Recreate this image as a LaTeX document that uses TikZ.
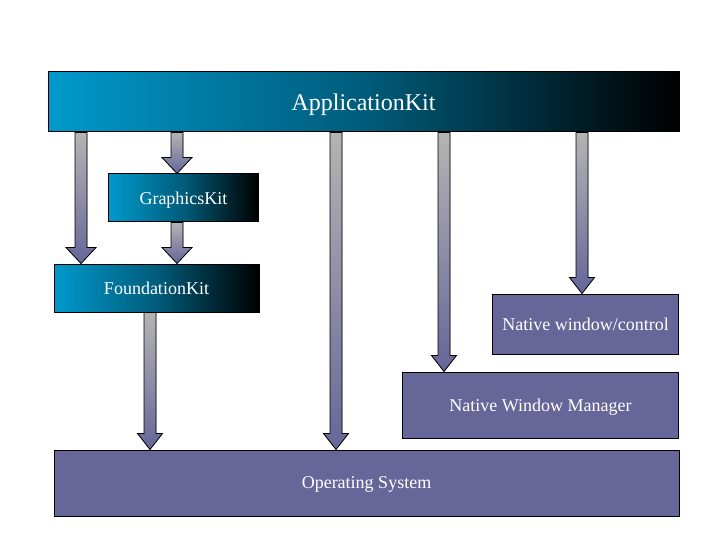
\documentclass[tikz,border=0pt]{standalone}
\usepackage{fontspec}
\setmainfont{Liberation Serif}
\usetikzlibrary{calc, positioning}
\definecolor{kitblue}{HTML}{0099CC}
\definecolor{nativepurple}{HTML}{666699}
\definecolor{shaftgray}{HTML}{B4B4B4}

% block arrow between two layers: [head half width]{x}{from}{to}
\newcommand{\layerarrow}[4][12.5]{%
  \coordinate (ax) at (#2,0);
  \coordinate (atail) at (ax |- #3.south);
  \coordinate (atip) at (ax |- #4.north);
  \filldraw[arrowbody] ($(atail)+(-6,0)$) -- ($(atip)+(-6,-16)$) -- ($(atip)+(-#1,-16)$) -- (atip)
    -- ($(atip)+(#1,-16)$) -- ($(atip)+(6,-16)$) -- ($(atail)+(6,0)$) -- cycle;
}

\begin{document}
\begin{tikzpicture}[x=1pt, y=-1pt,
  kitbox/.style={draw=black, line width=1pt, text=white, left color=kitblue, right color=black,
    middle color=kitblue!60!black, inner sep=0pt, text depth=0pt, font=\fontsize{18}{18}\selectfont},
  nativebox/.style={draw=black, line width=1pt, fill=nativepurple, text=white, inner sep=0pt,
    text depth=0pt, font=\fontsize{18}{18}\selectfont},
  arrowbody/.style={draw=black, line width=0.8pt, top color=shaftgray, bottom color=nativepurple}]
  \fill[white] (0,0) rectangle (720,540);
  \useasboundingbox (0,0) rectangle (720,540);

  % framework layers
  \node[kitbox, minimum width=631pt, minimum height=60pt, font=\fontsize{24}{24}\selectfont] (appkit) at (363.5,102) {ApplicationKit};
  \node[kitbox, minimum width=150pt, minimum height=48pt] (graphicskit) at (183.5,198) {GraphicsKit};
  \node[kitbox, minimum width=205pt, minimum height=48pt] (foundationkit) at (156.5,288) {FoundationKit};

  % native layers
  \node[nativebox, minimum width=186pt, minimum height=60pt] (nativectl) at (585.5,324) {Native window/control};
  \node[nativebox, minimum width=276pt, minimum height=66pt] (nwm) at (540.5,405) {Native Window Manager};
  \node[nativebox, minimum width=625pt, minimum height=66pt] (opsystem) at (366.5,483) {Operating System};

  % dependencies
  \layerarrow[15]{81}{appkit}{foundationkit}
  \layerarrow[15]{177}{appkit}{graphicskit}
  \layerarrow[15]{177}{graphicskit}{foundationkit}
  \layerarrow{336}{appkit}{opsystem}
  \layerarrow{444}{appkit}{nwm}
  \layerarrow{582}{appkit}{nativectl}
  \layerarrow{150}{foundationkit}{opsystem}
\end{tikzpicture}
\end{document}
